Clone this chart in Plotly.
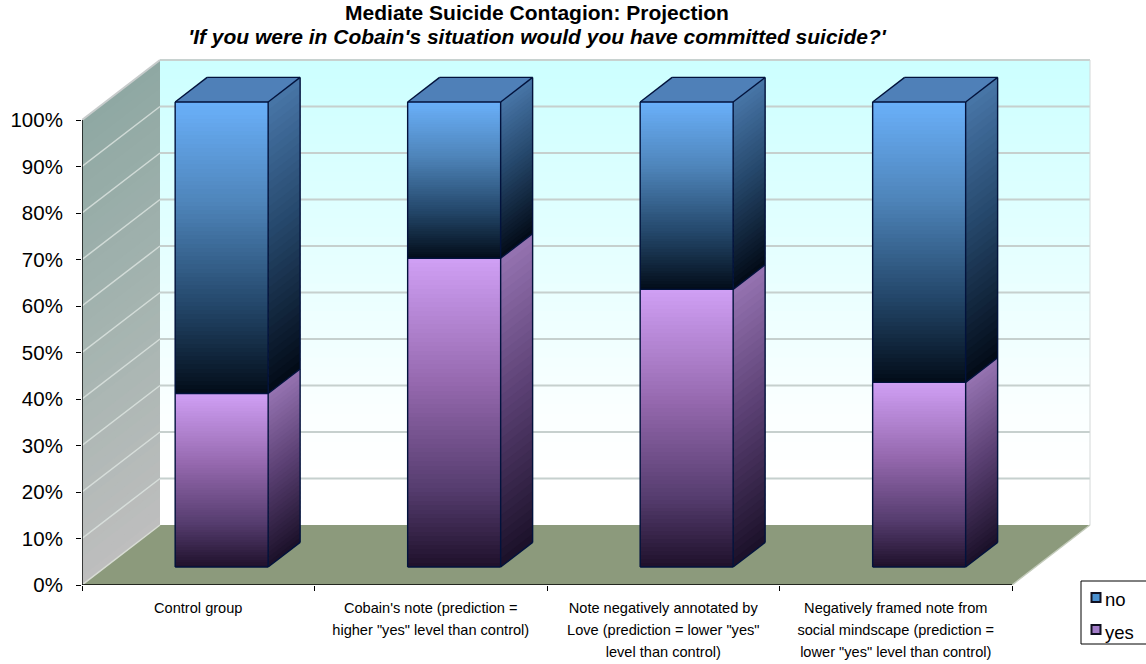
import plotly.graph_objects as go

categories = [
    "Control group",
    "Cobain's note (prediction =<br>higher \"yes\" level than control)",
    "Note negatively annotated by<br>Love (prediction = lower \"yes\"<br>level than control)",
    "Negatively framed note from<br>social mindscape (prediction =<br>lower \"yes\" level than control)",
]
yes_pct = [37.3, 66.4, 59.7, 39.7]
no_pct = [62.7, 33.6, 40.3, 60.3]
y_ticks = [0, 10, 20, 30, 40, 50, 60, 70, 80, 90, 100]
y_tick_labels = ["0%", "10%", "20%", "30%", "40%", "50%", "60%", "70%", "80%", "90%", "100%"]
title_line1 = "Mediate Suicide Contagion: Projection"
title_line2 = "'If you were in Cobain's situation would you have committed suicide?'"

W, H = 1146, 664
L, R, T, B = 82, 1100, 50, 585
PX_X, PX_Y = 232.5, 4.65
DX, DV = 78 / PX_X, 60 / PX_Y
D0, D1 = 0.30, 0.71
BAR_W = 93 / PX_X
SHIFT_X = D0 * DX
SHIFT_V = D0 * DV


def mix(stops, t):
    t = max(0, min(1, t))
    for (a, ca), (b, cb) in zip(stops, stops[1:]):
        if t <= b:
            f = (t - a) / (b - a)
            c = [round(ca[i] + (cb[i] - ca[i]) * f) for i in range(3)]
            return f"rgb({c[0]},{c[1]},{c[2]})"
    c = stops[-1][1]
    return f"rgb({c[0]},{c[1]},{c[2]})"


def P(x, v, d):
    return x + d * DX, v + d * DV


def poly(points, fill):
    path = "M " + " L ".join(f"{x:.4f},{y:.4f}" for x, y in points) + " Z"
    return dict(type="path", path=path, xref="x", yref="y", layer="below", fillcolor=fill,
                line=dict(width=0))


def seg(p, q, color, width, layer="below"):
    return dict(type="line", xref="x", yref="y", x0=p[0], y0=p[1], x1=q[0], y1=q[1],
                layer=layer, line=dict(color=color, width=width))


BACK = [(0, (204, 255, 255)), (0.35, (225, 255, 255)), (0.75, (250, 255, 255)), (0.9, (255, 255, 255)), (1, (255, 255, 255))]
SIDE_WALL = [(0, (143, 168, 163)), (0.5, (165, 180, 176)), (1, (190, 190, 190))]
NO_FRONT = [(0, (106, 176, 250)), (0.35, (78, 132, 185)), (0.7, (35, 70, 105)), (1, (2, 12, 24))]
YES_FRONT = [(0, (208, 160, 245)), (0.4, (150, 105, 175)), (0.75, (85, 60, 110)), (1, (30, 16, 42))]
NO_SIDE = [(0, (72, 118, 168)), (0.45, (38, 72, 108)), (1, (2, 10, 22))]
YES_SIDE = [(0, (150, 115, 178)), (0.5, (88, 62, 112)), (1, (26, 16, 40))]
OUTLINE = "#02123c"
OVERLAP = 0.6

shapes = []
# back and side walls, painted bottom to top with a small overlap
n = 50
for k in range(n):
    v0, v1 = 100 * k / n, 100 * (k + 1) / n
    top = min(100, v1 + OVERLAP)
    c = mix(BACK, 1 - (v0 + v1) / 200)
    shapes.append(poly([P(-0.5, v0, 1), P(3.5, v0, 1), P(3.5, top, 1), P(-0.5, top, 1)], c))
    c = mix(SIDE_WALL, 1 - (v0 + v1) / 200)
    shapes.append(poly([P(-0.5, v0, 0), P(-0.5, v0, 1), P(-0.5, top, 1), P(-0.5, top, 0)], c))
# floor
shapes.append(poly([P(-0.5, 0, 0), P(3.5, 0, 0), P(3.5, 0, 1), P(-0.5, 0, 1)], "#8c9a7c"))
# wall grid
for t in y_ticks[1:-1]:
    shapes.append(seg(P(-0.5, t, 0), P(-0.5, t, 1), "rgba(222,230,226,0.8)", 1.5))
    shapes.append(seg(P(-0.5, t, 1), P(3.5, t, 1), "#c6d0ce", 2))
shapes.append(seg(P(-0.5, 0, 0), P(-0.5, 0, 1), "#d8dcd4", 1.5))
shapes.append(seg(P(-0.5, 100, 0), P(-0.5, 100, 1), "#c8cccc", 2))
shapes.append(seg(P(-0.5, 100, 1), P(3.5, 100, 1), "#c8d2d0", 2))
shapes.append(seg(P(3.5, 0, 1), P(3.5, 100, 1), "#d4d8d8", 1))
shapes.append(seg(P(3.5, 0, 0), P(3.5, 0, 1), "#c4ccbc", 1.5))

# bar slices, side faces and top faces
steps = 70
side_steps = 36
xs, ys, bases, cols = {"yes": [], "no": []}, {"yes": [], "no": []}, {"yes": [], "no": []}, {"yes": [], "no": []}
for i, (yes, no) in enumerate(zip(yes_pct, no_pct)):
    for name, low, size, front, side in (
        ("yes", 0, yes, YES_FRONT, YES_SIDE),
        ("no", yes, no, NO_FRONT, NO_SIDE),
    ):
        for k in range(steps):
            f0, f1 = k / steps, (k + 1) / steps
            v0, v1 = low + size * f0, low + size * f1
            xs[name].append(i + SHIFT_X)
            bases[name].append(v0 + SHIFT_V)
            ys[name].append(v1 - v0 + (0.1 if k < steps - 1 else 0))
            cols[name].append(mix(front, 1 - (f0 + f1) / 2))
        for k in range(side_steps):
            f0, f1 = k / side_steps, (k + 1) / side_steps
            v0, v1 = low + size * f0, low + size * f1
            top = min(low + size, v1 + OVERLAP)
            rx = i + BAR_W / 2
            shapes.append(poly([P(rx, v0, D0), P(rx, v0, D1), P(rx, top, D1), P(rx, top, D0)],
                               mix(side, 1 - (f0 + f1) / 2)))
    lx, rx = i - BAR_W / 2, i + BAR_W / 2
    shapes.append(poly([P(lx, 100, D0), P(rx, 100, D0), P(rx, 100, D1), P(lx, 100, D1)], "#4f80b8"))

fig = go.Figure()
for name in ("yes", "no"):
    fig.add_trace(go.Bar(name=name, x=xs[name], y=ys[name], base=bases[name], width=BAR_W,
                         marker=dict(color=cols[name], line=dict(width=0)), showlegend=False,
                         hoverinfo="skip"))

# bar outlines
for i, yes in enumerate(yes_pct):
    lx, rx = i - BAR_W / 2, i + BAR_W / 2
    top = 100
    edges = [
        (P(lx, 0, D0), P(rx, 0, D0)), (P(lx, 0, D0), P(lx, top, D0)), (P(rx, 0, D0), P(rx, top, D0)),
        (P(lx, top, D0), P(rx, top, D0)), (P(lx, yes, D0), P(rx, yes, D0)),
        (P(rx, 0, D0), P(rx, 0, D1)), (P(rx, 0, D1), P(rx, top, D1)), (P(rx, top, D0), P(rx, top, D1)),
        (P(lx, top, D0), P(lx, top, D1)), (P(lx, top, D1), P(rx, top, D1)), (P(rx, yes, D0), P(rx, yes, D1)),
    ]
    for p, q in edges:
        shapes.append(seg(p, q, OUTLINE, 1.4, layer="above"))

# axis lines
shapes.append(seg(P(-0.5, 0, 0), P(3.5, 0, 0), "black", 1.4, layer="above"))
shapes.append(seg(P(-0.5, 0, 0), P(-0.5, 100, 0), "black", 1.4, layer="above"))

# legend
LEG = [("no", "#4a90d0", 600), ("yes", "#a27cc8", 632)]
def px(x): return (x - L) / (R - L)
def py(y): return (B - y) / (B - T)
shapes.append(dict(type="rect", xref="paper", yref="paper", x0=px(1081), x1=px(1148), y0=py(581), y1=py(644),
                   line=dict(color="black", width=1), fillcolor="white", layer="above"))
annotations = []
for label, color, yc in LEG:
    shapes.append(dict(type="rect", xref="paper", yref="paper", x0=px(1091.5), x1=px(1100.5), y0=py(yc - 7), y1=py(yc + 2),
                       line=dict(color="#101020", width=2), fillcolor=color, layer="above"))
    annotations.append(dict(text=label, xref="paper", yref="paper", x=px(1103), y=py(yc), xanchor="left",
                            yanchor="middle", showarrow=False, font=dict(size=18.5, color="black", family="Liberation Sans")))

title_span = "<span style='font-size:21px'><b>{}</b></span>"
fig.update_layout(
    width=W, height=H, margin=dict(l=L, r=W - R, t=T, b=H - B),
    paper_bgcolor="white", plot_bgcolor="rgba(0,0,0,0)", barmode="overlay", bargap=0,
    font=dict(family="Liberation Sans", color="black"),
    title=dict(text=title_span.format(title_line1) + "<br>" + title_span.format(f"<i>{title_line2}</i>"),
               x=537 / W, xanchor="center", y=1 - 20 / H, yanchor="top", font=dict(size=18.5, color="black")),
    xaxis=dict(range=[-0.5, -0.5 + (R - L) / PX_X], showgrid=False, zeroline=False, showline=False,
               tickmode="array", tickvals=list(range(len(categories))),
               ticktext=[f"<span style='font-size:14.6px'>{c}</span>" for c in categories],
               ticks="", tickfont=dict(size=17, family="Liberation Sans", color="black"), tickangle=0,
               ticklabelstandoff=10, automargin=False,
               minor=dict(tickmode="array", tickvals=[-0.5, 0.5, 1.5, 2.5, 3.5], ticks="outside", ticklen=5,
                          tickcolor="black", tickwidth=1.2, showgrid=False)),
    yaxis=dict(range=[0, (B - T) / PX_Y], showgrid=False, zeroline=False, showline=False,
               tickmode="array", tickvals=y_ticks, ticktext=y_tick_labels, ticks="outside", ticklen=5,
               tickcolor="black", tickwidth=1.2, tickfont=dict(size=20.5, family="Liberation Sans", color="black"),
               ticklabelstandoff=9, automargin=False),
    shapes=shapes, annotations=annotations, showlegend=False,
)
fig.write_html("out.html", config={"displayModeBar": False},
               post_script="document.body.style.margin='0';document.body.style.overflow='hidden';")
